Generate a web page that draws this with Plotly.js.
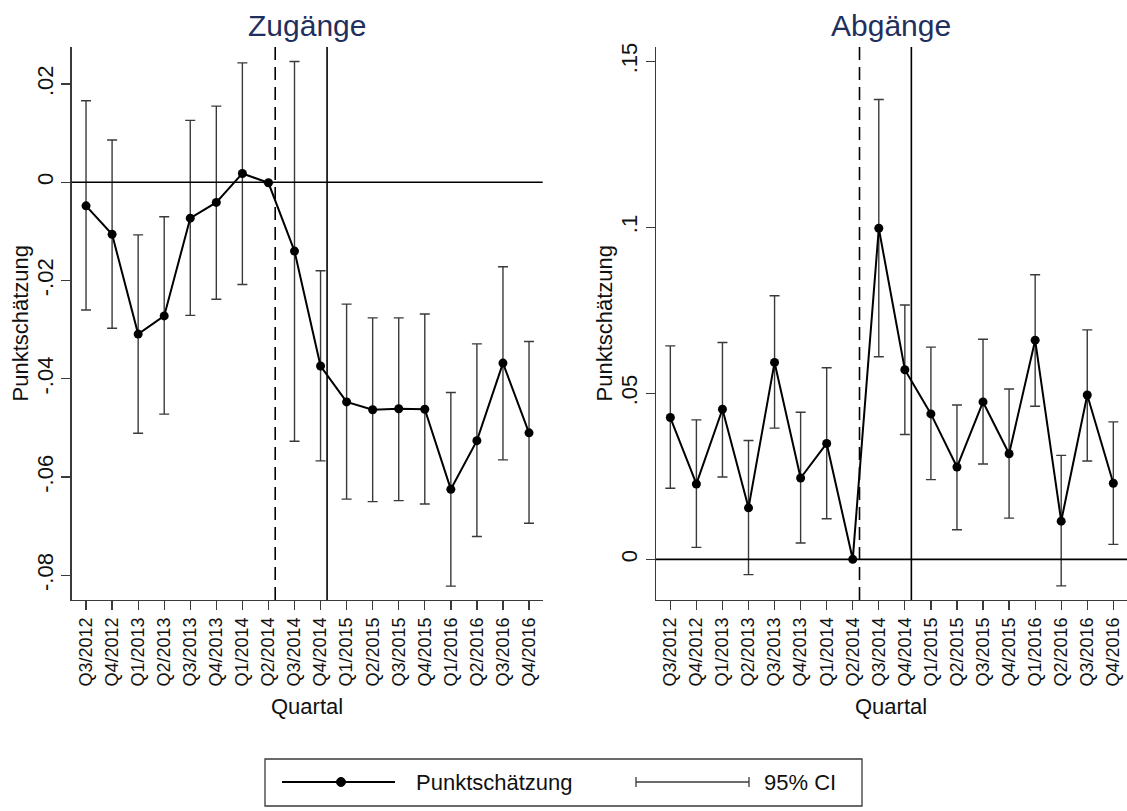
<!DOCTYPE html>
<html>
<head>
<meta charset="utf-8">
<script src="https://cdn.plot.ly/plotly-3.0.1.min.js"></script>
<style>
	html, body { margin: 0; padding: 0; background: #fff; }
	#myDiv { width: 1127px; height: 811px; }
</style>
</head>
<body>
<div id="myDiv"></div>
<script>
// Quartale (x-Achse)
let quartale = ["Q3/2012", "Q4/2012", "Q1/2013", "Q2/2013", "Q3/2013", "Q4/2013", "Q1/2014", "Q2/2014", "Q3/2014",
	"Q4/2014", "Q1/2015", "Q2/2015", "Q3/2015", "Q4/2015", "Q1/2016", "Q2/2016", "Q3/2016", "Q4/2016"]

// Zugänge: Punktschätzung + 95% CI (Q2/2014 = Referenz, kein CI)
let zugPunkt = [-0.0048, -0.0106, -0.0309, -0.0272, -0.0073, -0.0041, 0.0018, -0.0001, -0.0140,
	-0.0374, -0.0447, -0.0463, -0.0461, -0.0462, -0.0625, -0.0526, -0.0368, -0.0510]
let zugOben = [0.0166, 0.0086, -0.0107, -0.0070, 0.0126, 0.0155, 0.0243, null, 0.0246,
	-0.0180, -0.0248, -0.0276, -0.0276, -0.0268, -0.0428, -0.0329, -0.0172, -0.0324]
let zugUnten = [-0.0260, -0.0297, -0.0511, -0.0472, -0.0271, -0.0238, -0.0208, null, -0.0527,
	-0.0567, -0.0645, -0.0650, -0.0648, -0.0655, -0.0822, -0.0721, -0.0565, -0.0694]

// Abgänge
let abgPunkt = [0.0427, 0.0227, 0.0452, 0.0155, 0.0593, 0.0245, 0.0349, 0.0000, 0.0997,
	0.0571, 0.0438, 0.0278, 0.0474, 0.0318, 0.0660, 0.0115, 0.0495, 0.0229]
let abgOben = [0.0643, 0.0420, 0.0653, 0.0358, 0.0794, 0.0443, 0.0577, null, 0.1385,
	0.0766, 0.0639, 0.0465, 0.0663, 0.0513, 0.0857, 0.0313, 0.0691, 0.0414]
let abgUnten = [0.0214, 0.0036, 0.0248, -0.0046, 0.0395, 0.0049, 0.0122, null, 0.0610,
	0.0376, 0.0240, 0.0089, 0.0287, 0.0124, 0.0461, -0.0080, 0.0296, 0.0045]

let zugTickVals = [-0.08, -0.06, -0.04, -0.02, 0, 0.02]
let zugTickText = ["-.08", "-.06", "-.04", "-.02", "0", ".02"]
let abgTickVals = [0, 0.05, 0.1, 0.15]
let abgTickText = ["0", ".05", ".1", ".15"]

const W = 1127, H = 811
const FONT = "Liberation Sans, Arial, sans-serif"
const GRAU = "#3a3a3a"
const TXT = "#111"

function px(x){ return x / W }
function py(y){ return 1 - y / H }

function ciTrace(punkt, oben, unten, xa, ya){
	let plus = [], minus = []
	for (let i = 0; i < punkt.length; i++){
		plus.push(oben[i] == null ? null : oben[i] - punkt[i])
		minus.push(unten[i] == null ? null : punkt[i] - unten[i])
	}
	return {
		x: quartale, y: punkt, xaxis: xa, yaxis: ya,
		mode: "none", type: "scatter", showlegend: false, hoverinfo: "skip",
		error_y: { type: "data", symmetric: false, array: plus, arrayminus: minus,
			visible: true, color: GRAU, thickness: 1.4, width: 5 }
	}
}

function punktTrace(punkt, xa, ya){
	return {
		x: quartale, y: punkt, xaxis: xa, yaxis: ya,
		mode: "lines+markers", type: "scatter", showlegend: false,
		line: { color: "black", width: 2 },
		marker: { color: "black", size: 9 }
	}
}

var data = [
	ciTrace(zugPunkt, zugOben, zugUnten, "x", "y"),
	punktTrace(zugPunkt, "x", "y"),
	ciTrace(abgPunkt, abgOben, abgUnten, "x2", "y2"),
	punktTrace(abgPunkt, "x2", "y2"),
]

function xAchse(domain, anchor){
	return {
		domain: domain, anchor: anchor, type: "category",
		range: [-0.55, 17.525], autorange: false,
		showgrid: false, zeroline: false,
		showline: true, linecolor: GRAU, linewidth: 1.3,
		ticks: "outside", ticklen: 9, tickwidth: 1.3, tickcolor: GRAU,
		tickangle: -90, tickfont: { family: FONT, size: 18, color: TXT },
		fixedrange: true,
	}
}

function yAchse(domain, anchor, range, vals, text){
	return {
		domain: domain, anchor: anchor,
		range: range, autorange: false,
		showgrid: false, zeroline: false,
		showline: true, linecolor: GRAU, linewidth: 1.3,
		ticks: "outside", ticklen: 9, tickwidth: 1.3, tickcolor: GRAU,
		tickvals: vals, ticktext: text,
		tickangle: -90, tickfont: { family: FONT, size: 22, color: TXT },
		fixedrange: true,
	}
}

let yDom = [py(600), py(47)]

// Hilfslinien: Null, gestrichelt (Ankündigung), durchgezogen (Einführung)
let shapes = []
for (let k of ["", "2"]){
	shapes.push({ type: "line", xref: `x${k} domain`, yref: `y${k}`, x0: 0, x1: 1, y0: 0, y1: 0,
		line: { color: "black", width: 1.6 } })
	shapes.push({ type: "line", xref: `x${k}`, yref: `y${k} domain`, x0: 7.26, x1: 7.26, y0: 0, y1: 1,
		line: { color: "black", width: 1.6, dash: "13px,7px" } })
	shapes.push({ type: "line", xref: `x${k}`, yref: `y${k} domain`, x0: 9.25, x1: 9.25, y0: 0, y1: 1,
		line: { color: "black", width: 1.6 } })
}

// Legende unten (Kasten)
shapes.push({ type: "rect", xref: "paper", yref: "paper", x0: px(265), x1: px(862), y0: py(806), y1: py(759),
	line: { color: GRAU, width: 1.3 } })
shapes.push({ type: "line", xref: "paper", yref: "paper", x0: px(282), x1: px(395), y0: py(782), y1: py(782),
	line: { color: "black", width: 2 } })
shapes.push({ type: "circle", xref: "paper", yref: "paper", x0: px(336.5), x1: px(345.5), y0: py(786.5), y1: py(777.5),
	fillcolor: "black", line: { color: "black", width: 1 } })
shapes.push({ type: "line", xref: "paper", yref: "paper", x0: px(636), x1: px(749), y0: py(782), y1: py(782),
	line: { color: GRAU, width: 1.3 } })
for (let cx of [636, 749]){
	shapes.push({ type: "line", xref: "paper", yref: "paper", x0: px(cx), x1: px(cx), y0: py(787), y1: py(777),
		line: { color: GRAU, width: 1.3 } })
}

function label(text, x, y, size, extra){
	return Object.assign({ text: text, xref: "paper", yref: "paper", x: px(x), y: py(y),
		xanchor: "center", yanchor: "middle", showarrow: false,
		font: { family: FONT, size: size, color: TXT } }, extra || {})
}

let annotations = [
	label("Zugänge", 307, 25, 30, { font: { family: FONT, size: 30, color: "#1f2f5e" } }),
	label("Abgänge", 891, 25, 30, { font: { family: FONT, size: 30, color: "#1f2f5e" } }),
	label("Punktschätzung", 20, 323.5, 22, { textangle: -90 }),
	label("Punktschätzung", 604, 323.5, 22, { textangle: -90 }),
	label("Quartal", 307, 706, 22),
	label("Quartal", 891, 706, 22),
	label("Punktschätzung", 414, 782, 22, { xanchor: "left" }),
	label("95% CI", 762, 782, 22, { xanchor: "left" }),
]

var layout = {
	width: W, height: H,
	margin: { l: 0, r: 0, t: 0, b: 0 },
	paper_bgcolor: "white", plot_bgcolor: "white",
	showlegend: false,
	xaxis: xAchse([px(71.7), px(542.7)], "y"),
	yaxis: yAchse(yDom, "x", [-0.08503, 0.02754], zugTickVals, zugTickText),
	xaxis2: xAchse([px(656), 1], "y2"),
	yaxis2: yAchse(yDom, "x2", [-0.01225, 0.1543], abgTickVals, abgTickText),
	shapes: shapes,
	annotations: annotations,
}

Plotly.newPlot("myDiv", data, layout, { displayModeBar: false, staticPlot: true })
</script>
</body>
</html>
